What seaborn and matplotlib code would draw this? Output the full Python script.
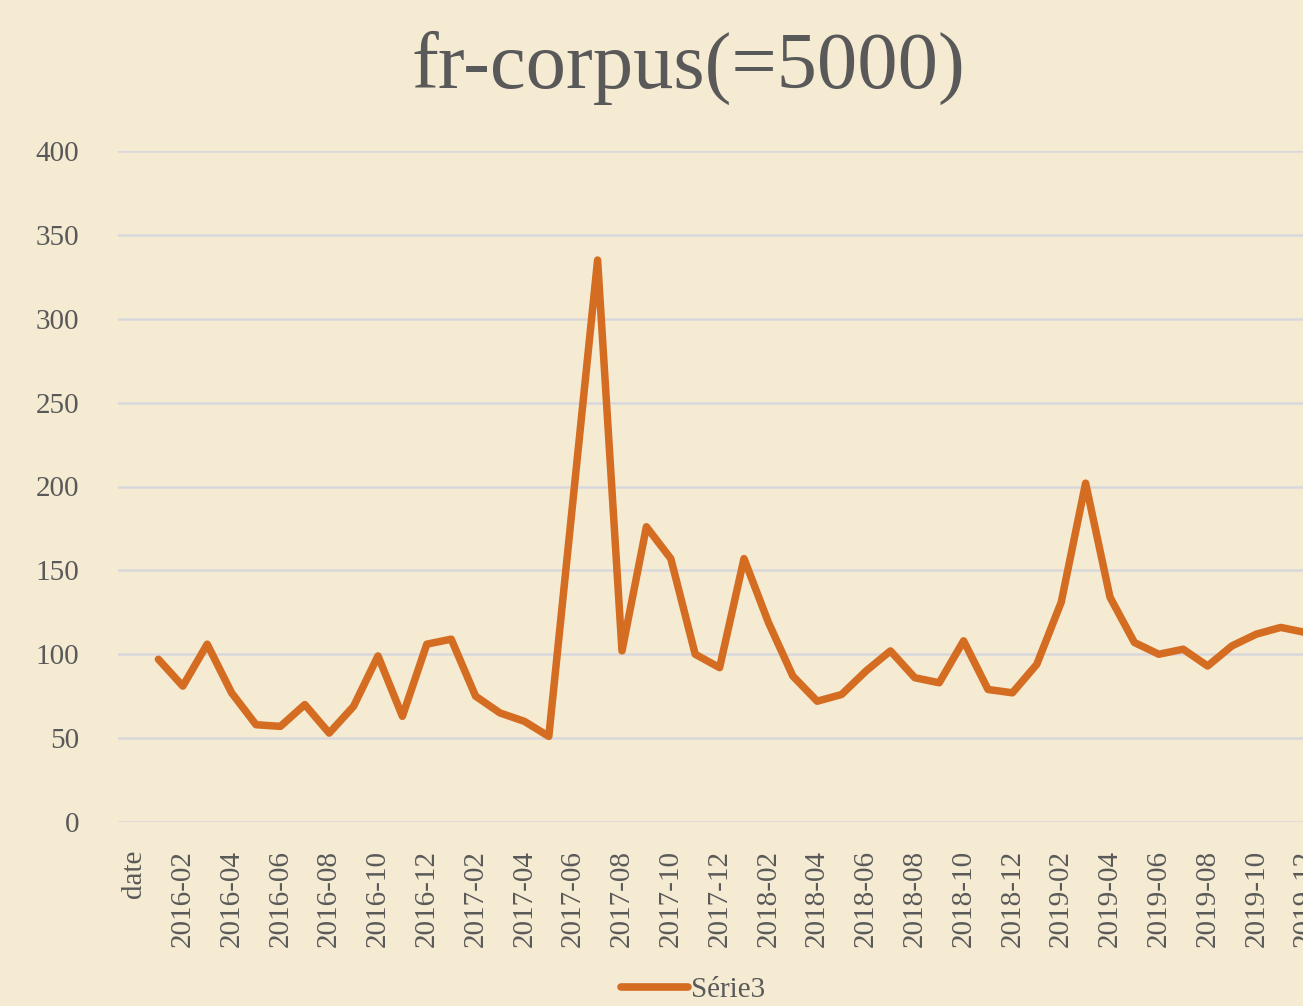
import numpy as np
import pandas as pd
import seaborn as sns
import matplotlib.pyplot as plt
from matplotlib.lines import Line2D

TITLE = "fr-corpus(=5000)"
SERIES_NAME = "Série3"

# x categories as in the source sheet: a "date" header cell then one per month
months = [f"{y}-{m:02d}" for y in (2016, 2017, 2018, 2019) for m in range(1, 13)]
categories = ["date"] + months

# monthly counts (the "date" cell has no value)
counts_2016 = [97, 81, 106, 77, 58, 57, 70, 53, 69, 99, 63, 106]
counts_2017 = [109, 75, 65, 60, 51, 193, 335, 102, 176, 157, 100, 92]
counts_2018 = [157, 119, 87, 72, 76, 90, 102, 86, 83, 108, 79, 77]
counts_2019 = [94, 131, 202, 134, 107, 100, 103, 93, 105, 112, 116, 113]
values = [np.nan] + counts_2016 + counts_2017 + counts_2018 + counts_2019

BG = "#F5EBD2"
LINE = "#D46D22"
GRID = "#D8D8DC"
TEXT = "#595959"

sns.set_theme(style="white")
plt.rcParams["font.family"] = ["Liberation Serif", "DejaVu Serif"]

df = pd.DataFrame({"idx": np.arange(len(categories)), "count": values})

W, H = 1303, 1006
fig = plt.figure(figsize=(W / 100, H / 100), dpi=100, facecolor=BG)

# plot area runs past the right edge, like the cropped original
left_px, right_px = 118, 1342
top_px, bottom_px = 151, 822
ax = fig.add_axes([left_px / W, 1 - bottom_px / H,
                   (right_px - left_px) / W, (bottom_px - top_px) / H])
ax.set_facecolor(BG)

sns.lineplot(data=df.dropna(), x="idx", y="count", ax=ax, color=LINE,
             linewidth=5.4, solid_joinstyle="round", solid_capstyle="round")

step = 24.4
ax.set_xlim(-(134 - left_px) / step, (right_px - 134) / step)
ax.set_ylim(0, 400)
ax.set_yticks(range(0, 401, 50))
ax.set_xticks(df["idx"][::2])
ax.set_xticklabels(categories[::2], rotation=90, va="top")
ax.tick_params(axis="x", length=0, pad=20, labelsize=21, labelcolor=TEXT)
ax.tick_params(axis="y", length=0, pad=28, labelsize=21, labelcolor=TEXT)
ax.yaxis.grid(True, color=GRID, linewidth=1.8)
ax.set_axisbelow(True)
for s in ax.spines.values():
    s.set_visible(False)
ax.set_xlabel("")
ax.set_ylabel("")

fig.text(688 / W, 1 - 68 / H, TITLE, ha="center", va="center",
         fontsize=58, color=TEXT)

handle = Line2D([], [], color=LINE, linewidth=5.5, solid_capstyle="round")
fig.legend([handle], [SERIES_NAME], loc="center",
           bbox_to_anchor=(693 / W, 1 - 990 / H), frameon=False,
           fontsize=21, labelcolor=TEXT, handlelength=2.3, handletextpad=0.1)

fig.savefig("out.png", dpi=100, facecolor=BG)
